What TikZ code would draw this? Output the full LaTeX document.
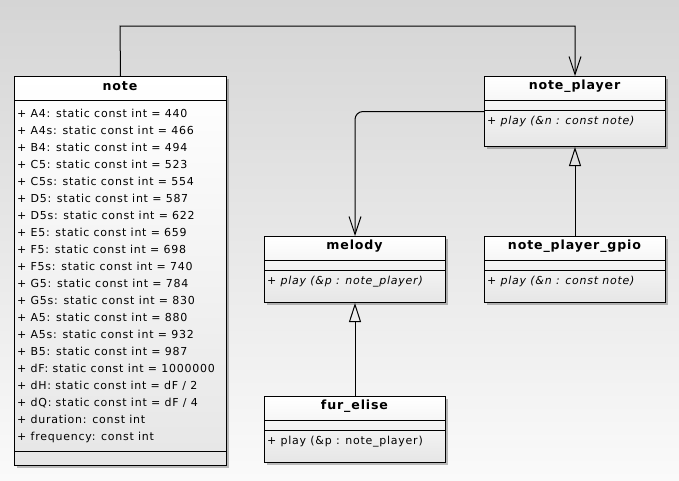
\documentclass[tikz,border=0pt]{standalone}
\usepackage{fontspec}
\newfontfamily\umlfont{DejaVu Sans}[LetterSpace=6.8]
\usetikzlibrary{arrows.meta,shadows}
\definecolor{bgtop}{RGB}{213,213,213}
\definecolor{bgbot}{RGB}{250,250,250}
\definecolor{boxbot}{RGB}{230,230,230}
\begin{document}
\begin{tikzpicture}[x=1pt,y=-1pt,
  classbox/.style={draw=black, line width=1pt, top color=white, bottom color=boxbot,
    inner sep=0pt, anchor=north west,
    drop shadow={shadow xshift=2.5pt, shadow yshift=-2.5pt, opacity=0.25, fill=black}},
  title/.style={font=\umlfont\bfseries\fontsize{12.6}{14}\selectfont, inner sep=0pt},
  member/.style={font=\umlfont\fontsize{11}{13}\selectfont, inner sep=0pt, anchor=base west},
  method/.style={member, font=\umlfont\itshape\fontsize{11}{13}\selectfont},
  sep/.style={draw=black, line width=1pt},
  assoc/.style={draw=black, line width=1pt, -{Straight Barb[length=18pt,width=12pt]}},
  gen/.style={draw=black, line width=1pt, -{Triangle[open,length=19pt,width=12pt]}}
]
\useasboundingbox (0,0) rectangle (679,480);
\shade[top color=bgtop, bottom color=bgbot] (0,0) rectangle (679,480);

% note
\node[classbox, minimum width=212pt, minimum height=389pt] (note) at (14,76) {};
\node[title] (notet) at (120,86) {note};
\draw[sep] ([yshift=-24.7pt]note.north west) -- ([yshift=-24.7pt]note.north east);
\draw[sep] ([yshift=15pt]note.south west) -- ([yshift=15pt]note.south east);
\foreach [count=\i from 0] \t in {
  {+ A4: static const int = 440},
  {+ A4s: static const int = 466},
  {+ B4: static const int = 494},
  {+ C5: static const int = 523},
  {+ C5s: static const int = 554},
  {+ D5: static const int = 587},
  {+ D5s: static const int = 622},
  {+ E5: static const int = 659},
  {+ F5: static const int = 698},
  {+ F5s: static const int = 740},
  {+ G5: static const int = 784},
  {+ G5s: static const int = 830},
  {+ A5: static const int = 880},
  {+ A5s: static const int = 932},
  {+ B5: static const int = 987},
  {+ dF: static const int = 1000000},
  {+ dH: static const int = dF / 2},
  {+ dQ: static const int = dF / 4},
  {+ duration: const int},
  {+ frequency: const int}}
  \node[member] (attr\i) at (17,117+17*\i) {\t};

% note_player
\node[classbox, minimum width=181pt, minimum height=70pt] (np) at (484,76) {};
\node[title] (npt) at (574.5,86) {note\_player};
\draw[sep] ([yshift=-24pt]np.north west) -- ([yshift=-24pt]np.north east);
\draw[sep] ([yshift=-34pt]np.north west) -- ([yshift=-34pt]np.north east);
\node[method] (npm) at (487,124) {+ play (\&n : const note)};

% melody
\node[classbox, minimum width=181pt, minimum height=66pt] (melody) at (264,236) {};
\node[title] (melodyt) at (354.5,246) {melody};
\draw[sep] ([yshift=-24pt]melody.north west) -- ([yshift=-24pt]melody.north east);
\draw[sep] ([yshift=-34pt]melody.north west) -- ([yshift=-34pt]melody.north east);
\node[method] (melodym) at (267,284) {+ play (\&p : note\_player)};

% note_player_gpio
\node[classbox, minimum width=181pt, minimum height=66pt] (gpio) at (484,236) {};
\node[title] (gpiot) at (574.5,246) {note\_player\_gpio};
\draw[sep] ([yshift=-24pt]gpio.north west) -- ([yshift=-24pt]gpio.north east);
\draw[sep] ([yshift=-34pt]gpio.north west) -- ([yshift=-34pt]gpio.north east);
\node[method] (gpiom) at (487,284) {+ play (\&n : const note)};

% fur_elise
\node[classbox, minimum width=181pt, minimum height=66pt] (fur) at (264,396) {};
\node[title] (furt) at (354.5,406) {fur\_elise};
\draw[sep] ([yshift=-24pt]fur.north west) -- ([yshift=-24pt]fur.north east);
\draw[sep] ([yshift=-34pt]fur.north west) -- ([yshift=-34pt]fur.north east);
\node[member] (furm) at (267,444) {+ play (\&p : note\_player)};

% connectors
\coordinate (bend) at (120,26);
\draw[assoc] (note.north) -- (bend) -| (np.north);
\draw[assoc, rounded corners=8pt] (np.west) -| (melody.north);
\draw[gen] (gpio.north) -- (np.south);
\draw[gen] (fur.north) -- (melody.south);
\end{tikzpicture}
\end{document}
